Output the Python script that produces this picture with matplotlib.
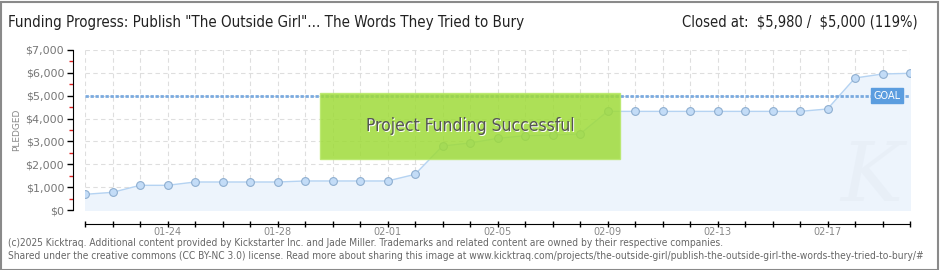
import numpy as np
import matplotlib.pyplot as plt
from matplotlib.ticker import MultipleLocator, FuncFormatter
from matplotlib.patches import Rectangle

# daily pledged totals, 01-21 .. 02-20
days = ['01-21', '01-22', '01-23', '01-24', '01-25', '01-26', '01-27', '01-28',
        '01-29', '01-30', '01-31', '02-01', '02-02', '02-03', '02-04', '02-05',
        '02-06', '02-07', '02-08', '02-09', '02-10', '02-11', '02-12', '02-13',
        '02-14', '02-15', '02-16', '02-17', '02-18', '02-19', '02-20']
pledged = [686, 773, 1080, 1080, 1225, 1225, 1225, 1225,
           1270, 1270, 1270, 1270, 1560, 2800, 2930, 3135,
           3250, 3280, 3325, 4315, 4315, 4315, 4315, 4315,
           4315, 4315, 4315, 4420, 5775, 5950, 5980]
goal = 5000
closed_at = 5980
label_days = ['01-24', '01-28', '02-01', '02-05', '02-09', '02-13', '02-17']

W, H = 940, 270
fig = plt.figure(figsize=(W / 100, H / 100), dpi=100)
fig.patch.set_facecolor('white')

narrow = dict(family='DejaVu Sans', fontstretch='condensed')

# frame round the whole image
fig.add_artist(Rectangle((0.5 / W, 0.5 / H), 1 - 3 / W, 1 - 2 / H, transform=fig.transFigure,
                         fill=False, edgecolor='#8a8a8a', linewidth=1.5))

ax = fig.add_axes([85 / W, (H - 210) / H, (910 - 85) / W, 160 / H])
x = np.arange(len(days))

ax.fill_between(x, pledged, 0, color='#edf4fc', zorder=1)
ax.plot(x, pledged, color='#b5d3f2', linewidth=1, zorder=3)
ax.plot(x, pledged, linestyle='none', marker='o', markersize=5.6,
        markerfacecolor='#c3dcf7', markeredgecolor='#8eaed0', markeredgewidth=0.8, zorder=4)

# goal line
ax.axhline(goal, color='#7aaadf', linewidth=2, linestyle=(0, (1.2, 0.6)), zorder=5)

ax.set_xlim(0, len(days) - 1)
ax.set_ylim(0, 7000)

# grid and ticks
ax.set_xticks(x)
ax.xaxis.set_major_formatter(FuncFormatter(
    lambda v, p: days[int(round(v))] if days[int(round(v))] in label_days else ''))
ax.yaxis.set_major_locator(MultipleLocator(1000))
ax.yaxis.set_minor_locator(MultipleLocator(500))
ax.yaxis.set_major_formatter(FuncFormatter(lambda v, p: '${:,.0f}'.format(v)))
ax.grid(True, which='major', color='#dedede', linestyle=(0, (4, 3)), linewidth=0.8, zorder=0)
ax.set_axisbelow(True)

for s in ['top', 'right']:
    ax.spines[s].set_visible(False)
ax.spines['bottom'].set_position(('outward', 10))
ax.spines['left'].set_position(('outward', 9))
ax.spines['bottom'].set_bounds(0, len(days) - 1)
ax.tick_params(axis='x', direction='inout', length=5, width=1, labelsize=7,
               labelcolor='#888888', pad=0)
ax.tick_params(axis='y', which='major', direction='out', length=4, width=1,
               labelsize=8, labelcolor='#777777', pad=2)
ax.tick_params(axis='y', which='minor', direction='out', length=3, width=1, color='#e02020')
ax.set_ylabel('PLEDGED', fontsize=6.5, color='#888888', labelpad=3)

# success banner
ax.add_patch(Rectangle((8.55, 2250), 10.9, 2850, facecolor='#9fdb3a', alpha=0.85,
                       edgecolor='#b8e86a', linewidth=1, zorder=6))
ax.text(14.05, 3625, 'Project Funding Successful', ha='center', va='center',
        fontsize=12.5, color='#ffffff', zorder=7, **narrow)
ax.text(14.0, 3670, 'Project Funding Successful', ha='center', va='center',
        fontsize=12.5, color='#555555', zorder=8, **narrow)

# goal tag
ax.text(29.15, goal, 'GOAL', ha='center', va='center', fontsize=7, color='white', zorder=9,
        bbox=dict(boxstyle='square,pad=0.25', facecolor='#5b9ddf', edgecolor='#5b9ddf'))

# faint watermark
ax.text(28.6, 1400, 'K', fontsize=60, style='italic', color='#e2eaf3', alpha=0.45,
        ha='center', va='center', zorder=2, family='DejaVu Serif')

# header
fig.text(8 / W, 1 - 22 / H,
         'Funding Progress: Publish "The Outside Girl"... The Words They Tried to Bury',
         fontsize=10.8, color='#222222', va='center', ha='left', **narrow)
fig.text(918 / W, 1 - 22 / H,
         'Closed at:  \\${:,} /  \\${:,} ({:d}%)'.format(closed_at, goal, closed_at * 100 // goal),
         fontsize=10.5, color='#222222', va='center', ha='right', **narrow)

# footer
fig.text(8 / W, 1 - 243 / H,
         '(c)2025 Kicktraq. Additional content provided by Kickstarter Inc. and Jade Miller. '
         'Trademarks and related content are owned by their respective companies.',
         fontsize=7.3, color='#666666', va='center', ha='left', **narrow)
fig.text(8 / W, 1 - 256 / H,
         'Shared under the creative commons (CC BY-NC 3.0) license. Read more about sharing this image at '
         'www.kicktraq.com/projects/the-outside-girl/publish-the-outside-girl-the-words-they-tried-to-bury/#',
         fontsize=7.3, color='#666666', va='center', ha='left', **narrow)

fig.savefig('out.png', dpi=100)
